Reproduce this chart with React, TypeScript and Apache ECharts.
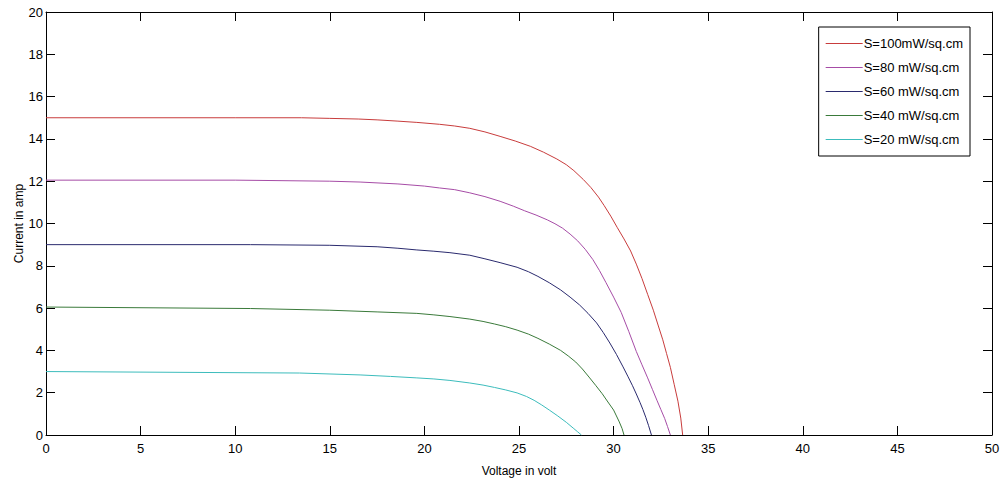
import React, { useEffect, useRef } from "react";
import * as echarts from "echarts";

// I–V characteristics of a PV module for five irradiance levels
const seriesNames = [
  "S=100mW/sq.cm",
  "S=80 mW/sq.cm",
  "S=60 mW/sq.cm",
  "S=40 mW/sq.cm",
  "S=20 mW/sq.cm",
];

const seriesColors = ["#c83c3c", "#a64ca6", "#2a2a6e", "#3a7a3a", "#3cbcbc"];

const v100 = [0, 10, 13.5, 15, 16.5, 17.5, 18.6, 19.6, 20.8, 21.6, 22.4, 23.2, 24, 24.8, 25.6, 26.3, 27, 27.5, 27.9, 28.4, 28.8, 29.2, 29.5, 29.85, 30.2, 30.55, 30.9, 31.2, 31.5, 31.8, 32.1, 32.35, 32.6, 32.8, 33.0, 33.2, 33.4, 33.55, 33.65];
const i100 = [15, 15, 15, 14.97, 14.94, 14.9, 14.84, 14.78, 14.69, 14.61, 14.5, 14.33, 14.12, 13.9, 13.65, 13.37, 13.05, 12.78, 12.5, 12.08, 11.7, 11.25, 10.85, 10.35, 9.8, 9.27, 8.7, 8.08, 7.4, 6.65, 5.9, 5.2, 4.5, 3.85, 3.2, 2.4, 1.6, 0.8, 0];

const v80 = [0, 10, 15, 16.6, 18.6, 20, 20.8, 21.6, 22.4, 23.2, 24.0, 24.7, 25.3, 25.9, 26.5, 26.9, 27.3, 27.7, 28.1, 28.5, 28.9, 29.25, 29.6, 30.0, 30.4, 30.8, 31.2, 31.5, 31.8, 32.05, 32.3, 32.5, 32.7, 32.85, 33.0];
const i80 = [12.05, 12.05, 12.0, 11.96, 11.87, 11.77, 11.68, 11.6, 11.45, 11.27, 11.05, 10.82, 10.6, 10.4, 10.17, 9.99, 9.78, 9.5, 9.18, 8.78, 8.3, 7.78, 7.2, 6.52, 5.8, 4.9, 3.95, 3.32, 2.7, 2.16, 1.62, 1.2, 0.78, 0.4, 0];

const v60 = [0, 10.8, 15, 17.5, 18.6, 19.6, 20.5, 21.35, 22.4, 23.2, 24.0, 24.9, 25.5, 26.0, 26.6, 27.2, 27.7, 28.2, 28.65, 29.1, 29.45, 29.8, 30.15, 30.5, 30.75, 31.0, 31.2, 31.4, 31.55, 31.7, 31.85, 32.0];
const i60 = [9.0, 9.0, 8.97, 8.9, 8.83, 8.75, 8.69, 8.62, 8.5, 8.33, 8.15, 7.93, 7.72, 7.5, 7.2, 6.86, 6.52, 6.15, 5.75, 5.3, 4.85, 4.35, 3.81, 3.22, 2.78, 2.33, 1.94, 1.53, 1.2, 0.84, 0.44, 0];

const v40 = [0, 10.8, 15, 17.5, 19.6, 20.5, 21.35, 22.4, 23.1, 23.7, 24.3, 24.9, 25.5, 26.0, 26.6, 27.2, 27.6, 28.0, 28.35, 28.7, 29.05, 29.4, 29.7, 30.0, 30.15, 30.3, 30.45, 30.55];
const i40 = [6.05, 5.98, 5.9, 5.82, 5.75, 5.68, 5.6, 5.48, 5.37, 5.25, 5.12, 4.96, 4.77, 4.57, 4.3, 4.0, 3.74, 3.45, 3.12, 2.74, 2.35, 1.95, 1.56, 1.18, 0.9, 0.62, 0.3, 0];

const v20 = [0, 13.4, 16.6, 18.2, 19.6, 20.5, 21.35, 22.4, 23.1, 23.7, 24.3, 24.9, 25.4, 25.8, 26.2, 26.6, 27.05, 27.5, 27.9, 28.1, 28.3];
const i20 = [3.0, 2.93, 2.84, 2.77, 2.7, 2.65, 2.58, 2.46, 2.36, 2.25, 2.13, 1.99, 1.82, 1.64, 1.42, 1.18, 0.9, 0.6, 0.3, 0.15, 0];

const voltages = [v100, v80, v60, v40, v20];
const currents = [i100, i80, i60, i40, i20];

const FONT = "'Liberation Sans', Arial, sans-serif";

export default function App() {
  const ref = useRef<HTMLDivElement>(null);

  useEffect(() => {
    if (!ref.current) return;
    const chart = echarts.init(ref.current, undefined, { renderer: "svg" });

    const tickCommon = {
      show: true,
      inside: true,
      length: 9,
      lineStyle: { color: "#000", width: 1 },
    };
    const lineCommon = { show: true, onZero: false, lineStyle: { color: "#000", width: 1 } };
    const labelStyle = { color: "#000", fontSize: 13, fontFamily: FONT };

    const series = seriesNames.map((name, k) => ({
      name,
      type: "line" as const,
      xAxisIndex: 0,
      yAxisIndex: 0,
      symbol: "none",
      smooth: false,
      color: seriesColors[k],
      lineStyle: { width: 1, color: seriesColors[k] },
      itemStyle: { color: seriesColors[k] },
      data: voltages[k].map((v, j) => [v, currents[k][j]]),
    }));

    chart.setOption({
      animation: false,
      backgroundColor: "#fff",
      color: seriesColors,
      grid: { left: 46, right: 8, top: 12, bottom: 49, containLabel: false, outerBoundsMode: "none" },
      legend: {
        orient: "vertical",
        right: 30,
        top: 27,
        data: seriesNames.map((name, k) => ({
          name,
          itemStyle: { color: seriesColors[k], borderWidth: 0 },
        })),
        icon: "rect",
        itemWidth: 37,
        itemHeight: 1.2,
        itemGap: 9,
        padding: [9, 7, 9, 7],
        backgroundColor: "#fff",
        borderColor: "#000",
        borderWidth: 1,
        borderRadius: 0,
        textStyle: { color: "#000", fontSize: 13, fontFamily: FONT, lineHeight: 15, padding: [0, 0, 0, -4] },
      },
      xAxis: [
        {
          type: "value",
          position: "bottom",
          min: 0,
          max: 50,
          interval: 5,
          name: "Voltage in volt",
          nameLocation: "middle",
          nameGap: 30,
          nameMoveOverlap: false,
          nameTextStyle: { color: "#000", fontSize: 12, fontFamily: FONT },
          axisLine: lineCommon,
          axisTick: tickCommon,
          axisLabel: { ...labelStyle, margin: 7 },
          splitLine: { show: false },
        },
        {
          type: "value",
          position: "top",
          min: 0,
          max: 50,
          interval: 5,
          axisLine: lineCommon,
          axisTick: tickCommon,
          axisLabel: { show: false },
          splitLine: { show: false },
        },
      ],
      yAxis: [
        {
          type: "value",
          position: "left",
          min: 0,
          max: 20,
          interval: 2,
          name: "Current in amp",
          nameLocation: "middle",
          nameRotate: 90,
          nameGap: 21,
          nameMoveOverlap: false,
          nameTextStyle: { color: "#000", fontSize: 12, fontFamily: FONT },
          axisLine: lineCommon,
          axisTick: tickCommon,
          axisLabel: { ...labelStyle, margin: 3 },
          splitLine: { show: false },
        },
        {
          type: "value",
          position: "right",
          min: 0,
          max: 20,
          interval: 2,
          axisLine: lineCommon,
          axisTick: tickCommon,
          axisLabel: { show: false },
          splitLine: { show: false },
        },
      ],
      series,
    });

    return () => chart.dispose();
  }, []);

  return (
    <div
      ref={ref}
      style={{ position: "absolute", left: 0, top: 0, width: 1000, height: 484 }}
    />
  );
}
